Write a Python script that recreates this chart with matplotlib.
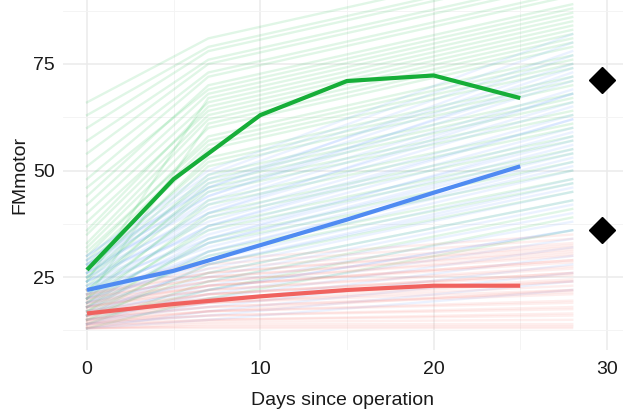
import matplotlib
matplotlib.use("Agg")
import matplotlib.pyplot as plt
from matplotlib.ticker import MultipleLocator

plt.rcParams['font.family'] = ['Liberation Sans', 'DejaVu Sans']

# spaghetti lines, read at day 0, day 7 and day 28
line_days = [0, 7, 28]

green_d0 = [13, 14, 15, 15, 16, 16, 17, 17, 18, 18, 19, 19, 20, 20, 21, 22, 22, 23, 24, 25, 25, 26, 27,
            28, 29, 30, 31, 32, 33, 35, 36, 38, 40, 42, 44, 46, 48, 51, 54, 57, 60, 63, 66, 20, 24]
green_d7 = [20, 24, 22, 28, 26, 31, 30, 34, 33, 37, 36, 40, 39, 43, 42, 45, 47, 46, 49, 48, 51, 53, 52,
            55, 56, 58, 57, 60, 62, 63, 65, 64, 66, 68, 70, 69, 72, 73, 75, 76, 78, 79, 81, 61, 67]
green_d28 = [36, 41, 39, 45, 43, 48, 47, 52, 50, 55, 54, 58, 57, 61, 60, 63, 66, 64, 68, 67, 70, 72, 71,
             74, 75, 77, 76, 79, 81, 82, 84, 83, 85, 87, 89, 88, 91, 92, 94, 95, 97, 98, 100, 80, 86]

blue_d0 = [13, 13, 14, 14, 15, 15, 16, 16, 17, 17, 18, 18, 19, 19, 20, 20, 21, 21, 22, 22, 23, 23, 24,
           24, 25, 25, 26, 26, 27, 27, 28, 28, 29, 29, 30, 30, 16, 18, 20, 22, 24, 14, 26, 28, 19]
blue_d7 = [15, 17, 16, 19, 18, 21, 20, 23, 22, 25, 24, 27, 26, 29, 28, 31, 30, 33, 32, 35, 34, 37, 36,
           39, 38, 41, 40, 43, 42, 45, 44, 47, 46, 48, 50, 49, 28, 31, 34, 37, 40, 22, 44, 46, 33]
blue_d28 = [22, 26, 24, 30, 28, 34, 32, 38, 36, 42, 40, 45, 43, 48, 47, 51, 50, 54, 53, 57, 56, 60, 59,
            63, 62, 66, 65, 69, 68, 72, 71, 75, 74, 78, 82, 80, 46, 52, 58, 62, 68, 36, 73, 77, 55]

red_d0 = [13, 13, 13, 13.5, 13.5, 14, 14, 14.5, 14.5, 15, 15, 15.5, 16, 16, 16.5, 17, 17, 17.5, 18,
          18, 18.5, 19, 19, 19.5, 20, 20, 20.5, 21, 21, 22, 22, 14, 15, 16, 18]
red_d7 = [13, 13.5, 14, 14.5, 15, 15, 16, 16, 17, 17, 18, 18, 19, 19, 20, 20, 21, 21, 22, 22, 23, 23,
          24, 24, 25, 25, 26, 26, 27, 28, 29, 17, 19, 21, 23]
red_d28 = [13, 13.5, 14, 15, 16, 16.5, 17.5, 18, 19, 19.5, 21, 21.5, 22, 23, 24, 24.5, 25.5, 26, 27,
           27.5, 28.5, 29, 30, 30.5, 31, 31.5, 32, 32.5, 33, 34, 35, 22, 24, 26, 29]

# fitted mean curves
mean_days = [0, 5, 10, 15, 20, 25]
green_mean = [26.7, 48, 63, 71, 72.3, 67]
blue_mean = [22, 26.5, 32.5, 38.5, 44.8, 51]
red_mean = [16.5, 18.7, 20.5, 22, 23, 23]

# diamonds on the right
diamond_x = [29.7, 29.7]
diamond_y = [71.2, 36.0]

fig = plt.figure(figsize=(6.23, 4.09), dpi=100)
ax = fig.add_axes([0.101, 0.144, 0.899, 0.856])

groups = [
    (green_d0, green_d7, green_d28, '#00BA38'),
    (blue_d0, blue_d7, blue_d28, '#619CFF'),
    (red_d0, red_d7, red_d28, '#F8766D'),
]
for d0, d7, d28, col in groups:
    for a, b, c in zip(d0, d7, d28):
        ax.plot(line_days, [a, b, c], color=col, lw=1.7, alpha=0.12, zorder=2)

ax.plot(mean_days, green_mean, color='#16AE38', lw=3.0, zorder=4, solid_capstyle='butt')
ax.plot(mean_days, blue_mean, color='#4F8BF2', lw=3.0, zorder=4, solid_capstyle='butt')
ax.plot(mean_days, red_mean, color='#F0625E', lw=3.0, zorder=4, solid_capstyle='butt')

ax.plot(diamond_x, diamond_y, 'D', color='black', ms=13, zorder=5, linestyle='none')

ax.set_xlim(-1.39, 30.93)
ax.set_ylim(7.9, 90.0)
ax.xaxis.set_major_locator(MultipleLocator(10))
ax.xaxis.set_minor_locator(MultipleLocator(5))
ax.yaxis.set_major_locator(MultipleLocator(25))
ax.yaxis.set_minor_locator(MultipleLocator(12.5))
ax.grid(which='major', color='#EBEBEB', lw=1.1, zorder=0)
ax.grid(which='minor', color='#F3F3F3', lw=0.6, zorder=0)
ax.set_axisbelow(True)
for s in ax.spines.values():
    s.set_visible(False)
ax.tick_params(which='both', length=0, labelsize=14, labelcolor='#1a1a1a')
ax.tick_params(axis='x', pad=8)
ax.tick_params(axis='y', pad=6)
ax.set_yticks([25, 50, 75])
ax.set_xticks([0, 10, 20, 30])

ax.set_xlabel('Days since operation', fontsize=14, color='#1a1a1a', labelpad=10)
ax.set_ylabel('FMmotor', fontsize=14, color='#1a1a1a', labelpad=3)

fig.savefig('out.png', dpi=100)
